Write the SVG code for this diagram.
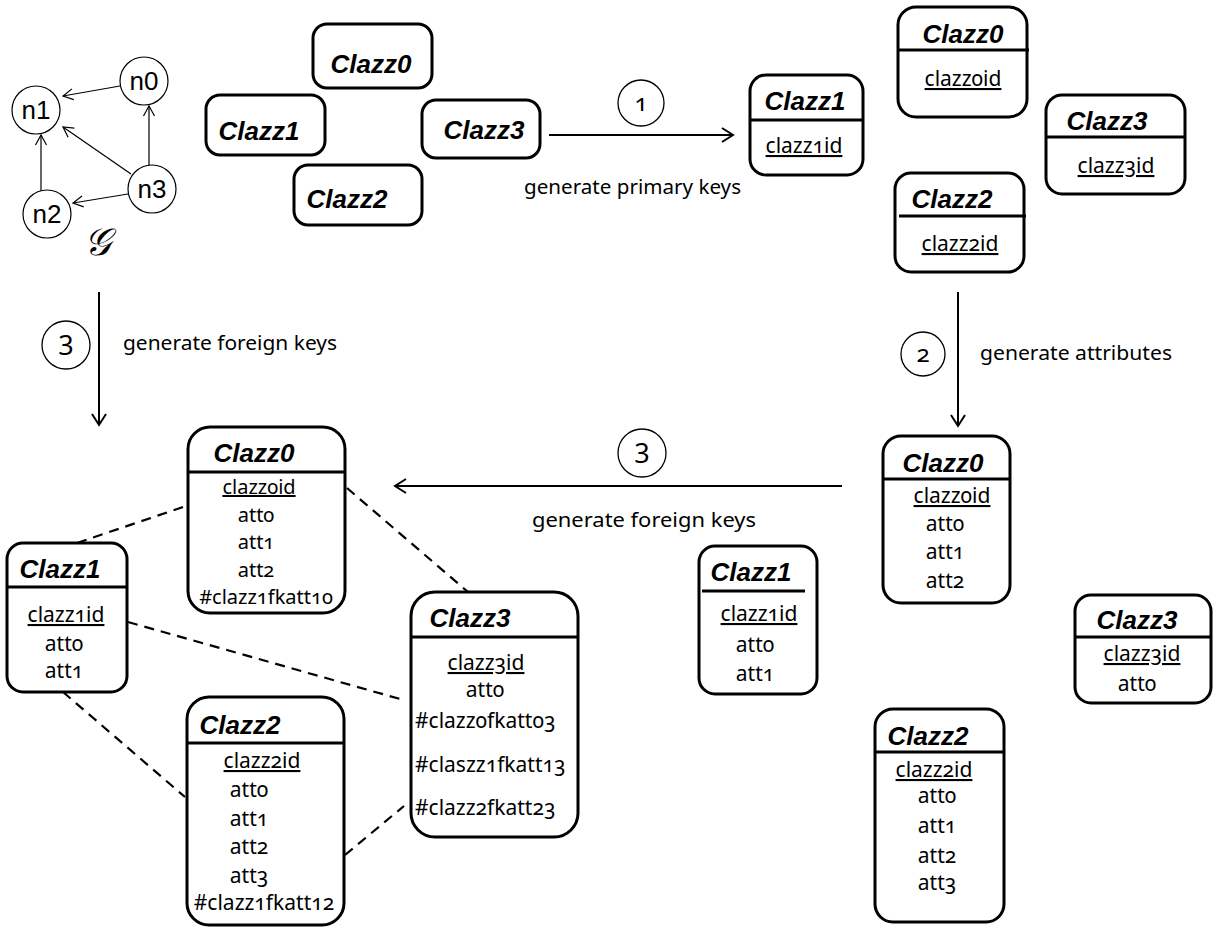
<svg xmlns="http://www.w3.org/2000/svg" width="1218" height="928" viewBox="0 0 1218 928">
<style>
.box{fill:#fff;stroke:#000;stroke-width:3}
.hl{stroke:#000;stroke-width:3}
.t{font-family:"Liberation Sans",Arial,sans-serif;font-weight:bold;font-style:italic;font-size:26px;text-anchor:middle;fill:#000}
.a{font-family:"Noto Sans","Open Sans",sans-serif;font-size:21px;text-anchor:middle;fill:#000;font-variant-numeric:oldstyle-nums}
.s20{font-size:20px}
.as{text-anchor:start}
.u{text-decoration:underline}
.lbl{font-family:"Noto Sans","Open Sans",sans-serif;font-size:19px;fill:#000}
.num{font-family:"Noto Sans","Open Sans",sans-serif;font-size:24px;text-anchor:middle;fill:#000;font-variant-numeric:oldstyle-nums}
.num3{font-family:"Noto Sans","Open Sans",sans-serif;font-size:27px;text-anchor:middle;fill:#000}
.gn{fill:#fff;stroke:#000;stroke-width:1.2}
.gt{font-family:"Liberation Sans",Arial,sans-serif;font-size:26px;text-anchor:middle;fill:#000}
.ge{stroke:#000;stroke-width:1.2;fill:none;marker-end:url(#sa)}
.main{stroke:#000;stroke-width:2;fill:none;marker-end:url(#ma)}
.dash{stroke:#000;stroke-width:2.2;fill:none;stroke-dasharray:10 7}
.cc{fill:none;stroke:#000;stroke-width:1.3}
</style>
<defs>
<marker id="ma" markerUnits="userSpaceOnUse" markerWidth="16" markerHeight="16" refX="13" refY="8" orient="auto" overflow="visible">
<path d="M2,1 L13,8 L2,15" fill="none" stroke="#000" stroke-width="2"/>
</marker>
<marker id="sa" markerUnits="userSpaceOnUse" markerWidth="14" markerHeight="14" refX="11" refY="7" orient="auto" overflow="visible">
<path d="M1,1.5 L11,7 L1,12.5" fill="none" stroke="#000" stroke-width="1.2"/>
</marker>
</defs>
<rect width="1218" height="928" fill="#fff"/>

<g id="connectors">
<line class="ge" x1="120" y1="86" x2="63" y2="96"/>
<line class="ge" x1="131" y1="174" x2="63" y2="127"/>
<line class="ge" x1="149" y1="165" x2="149" y2="106"/>
<line class="ge" x1="41" y1="191" x2="41" y2="135"/>
<line class="ge" x1="128" y1="194" x2="73" y2="203"/>
<line class="main" x1="549" y1="135" x2="733" y2="135"/>
<line class="main" x1="958" y1="292" x2="958" y2="426"/>
<line class="main" x1="99" y1="292" x2="99" y2="425"/>
<line class="main" x1="842" y1="486" x2="395" y2="486"/>
<line class="dash" x1="77" y1="543" x2="183" y2="507"/>
<line class="dash" x1="347" y1="488" x2="468" y2="592"/>
<line class="dash" x1="128" y1="622" x2="400" y2="699"/>
<line class="dash" x1="63" y1="692" x2="185" y2="797"/>
<line class="dash" x1="345" y1="855" x2="404" y2="806"/>
</g>

<g id="graph">
<g id="n0"><circle class="gn" cx="144" cy="81" r="24"/><text class="gt" x="144" y="90">n0</text></g>
<g id="n1"><circle class="gn" cx="36" cy="110" r="24"/><text class="gt" x="36" y="119">n1</text></g>
<g id="n2"><circle class="gn" cx="47" cy="214" r="24"/><text class="gt" x="47" y="223">n2</text></g>
<g id="n3"><circle class="gn" cx="152" cy="189" r="24"/><text class="gt" x="152" y="198">n3</text></g>
<text x="97" y="255" font-family="'DejaVu Serif','Noto Sans',serif" font-size="38" font-style="italic" text-anchor="middle">𝒢</text>
</g>

<g id="step-labels">
<g id="s1"><circle class="cc" cx="641" cy="103" r="23"/><text class="num" x="641" y="111">1</text>
<text class="lbl" x="524" y="194" textLength="217" lengthAdjust="spacingAndGlyphs">generate primary keys</text></g>
<g id="s2"><circle class="cc" cx="923" cy="354" r="22"/><text class="num" x="923" y="362">2</text>
<text class="lbl" x="980" y="360" textLength="192" lengthAdjust="spacingAndGlyphs">generate attributes</text></g>
<g id="s3a"><circle class="cc" cx="66" cy="345" r="24"/><text class="num3" x="66" y="355">3</text>
<text class="lbl" x="123" y="350" textLength="214" lengthAdjust="spacingAndGlyphs">generate foreign keys</text></g>
<g id="s3b"><circle class="cc" cx="642" cy="453" r="24"/><text class="num3" x="642" y="463">3</text>
<text class="lbl" x="532" y="527" textLength="224" lengthAdjust="spacingAndGlyphs">generate foreign keys</text></g>
</g>

<g id="tm-clazz0"><rect class="box" x="313" y="24" width="119" height="64" rx="14"/><text class="t" x="371" y="73">Clazz0</text></g>
<g id="tm-clazz1"><rect class="box" x="206" y="95" width="119" height="60" rx="14"/><text class="t" x="259" y="140">Clazz1</text></g>
<g id="tm-clazz3"><rect class="box" x="422" y="100" width="118" height="58" rx="14"/><text class="t" x="484" y="139">Clazz3</text></g>
<g id="tm-clazz2"><rect class="box" x="294" y="165" width="128" height="60" rx="14"/><text class="t" x="347" y="208">Clazz2</text></g>

<g id="tr-clazz1"><rect class="box" x="750" y="75" width="113" height="100" rx="16"/><line class="hl" x1="750" y1="120" x2="863" y2="120"/>
<text class="t" x="805" y="110">Clazz1</text><text class="a u" x="804" y="153">clazz1id</text></g>
<g id="tr-clazz0"><rect class="box" x="898" y="7" width="129" height="110" rx="18"/><line class="hl" x1="898" y1="50" x2="1029" y2="50"/>
<text class="t" x="963" y="43">Clazz0</text><text class="a u" x="963" y="86">clazz0id</text></g>
<g id="tr-clazz3"><rect class="box" x="1046" y="95" width="139" height="99" rx="16"/><line class="hl" x1="1046" y1="137" x2="1185" y2="137"/>
<text class="t" x="1107" y="130">Clazz3</text><text class="a u" x="1116" y="173">clazz3id</text></g>
<g id="tr-clazz2"><rect class="box" x="895" y="173" width="129" height="99" rx="16"/><line class="hl" x1="899" y1="216" x2="1026" y2="216"/>
<text class="t" x="952" y="208">Clazz2</text><text class="a u" x="960" y="251">clazz2id</text></g>

<g id="br-clazz0"><rect class="box" x="883" y="436" width="127" height="167" rx="18"/><line class="hl" x1="883" y1="479" x2="1010" y2="479"/>
<text class="t" x="943" y="472">Clazz0</text><text class="a u" x="952" y="503">clazz0id</text>
<text class="a" x="945" y="531">att0</text><text class="a" x="945" y="559">att1</text><text class="a" x="945" y="588">att2</text></g>
<g id="br-clazz1"><rect class="box" x="699" y="546" width="118" height="148" rx="16"/><line class="hl" x1="702" y1="591" x2="805" y2="591"/>
<text class="t" x="751" y="581">Clazz1</text><text class="a u" x="759" y="621">clazz1id</text>
<text class="a" x="755" y="652">att0</text><text class="a" x="755" y="681">att1</text></g>
<g id="br-clazz3"><rect class="box" x="1075" y="595" width="136" height="108" rx="16"/><line class="hl" x1="1075" y1="637" x2="1211" y2="637"/>
<text class="t" x="1137" y="629">Clazz3</text><text class="a u" x="1142" y="661">clazz3id</text>
<text class="a" x="1137" y="691">att0</text></g>
<g id="br-clazz2"><rect class="box" x="875" y="709" width="129" height="213" rx="18"/><line class="hl" x1="875" y1="752" x2="1004" y2="752"/>
<text class="t" x="928" y="745">Clazz2</text><text class="a u" x="934" y="777">clazz2id</text>
<text class="a" x="937" y="803">att0</text><text class="a" x="937" y="833">att1</text><text class="a" x="937" y="863">att2</text><text class="a" x="937" y="890">att3</text></g>

<g id="bl-clazz0"><rect class="box" x="188" y="427" width="157" height="186" rx="22"/><line class="hl" x1="188" y1="472" x2="345" y2="472"/>
<text class="t" x="254" y="462">Clazz0</text><text class="a s20 u" x="259" y="494">clazz0id</text>
<text class="a s20" x="256" y="521.5">att0</text><text class="a s20" x="256" y="549">att1</text><text class="a s20" x="256" y="576.5">att2</text>
<text class="a s20" x="266" y="604">#clazz1fkatt10</text></g>
<g id="bl-clazz1"><rect class="box" x="7" y="543" width="120" height="149" rx="16"/><line class="hl" x1="6" y1="587" x2="127" y2="587"/>
<text class="t" x="60" y="578">Clazz1</text><text class="a u" x="66" y="622">clazz1id</text>
<text class="a" x="64" y="651">att0</text><text class="a" x="64" y="678">att1</text></g>
<g id="bl-clazz3"><rect class="box" x="411" y="592" width="167" height="245" rx="24"/><line class="hl" x1="411" y1="637" x2="578" y2="637"/>
<text class="t" x="470" y="627">Clazz3</text><text class="a u" x="486" y="670">clazz3id</text>
<text class="a" x="485" y="697">att0</text>
<text class="a as" x="415" y="728">#clazz0fkatt03</text>
<text class="a as" x="415" y="772">#claszz1fkatt13</text>
<text class="a as" x="415" y="815">#clazz2fkatt23</text></g>
<g id="bl-clazz2"><rect class="box" x="187" y="697" width="157" height="228" rx="22"/><line class="hl" x1="187" y1="743" x2="344" y2="743"/>
<text class="t" x="240" y="734">Clazz2</text><text class="a u" x="262" y="768">clazz2id</text>
<text class="a" x="249" y="797">att0</text><text class="a" x="249" y="826">att1</text><text class="a" x="249" y="854">att2</text><text class="a" x="249" y="883">att3</text>
<text class="a" x="264" y="910">#clazz1fkatt12</text></g>
</svg>
